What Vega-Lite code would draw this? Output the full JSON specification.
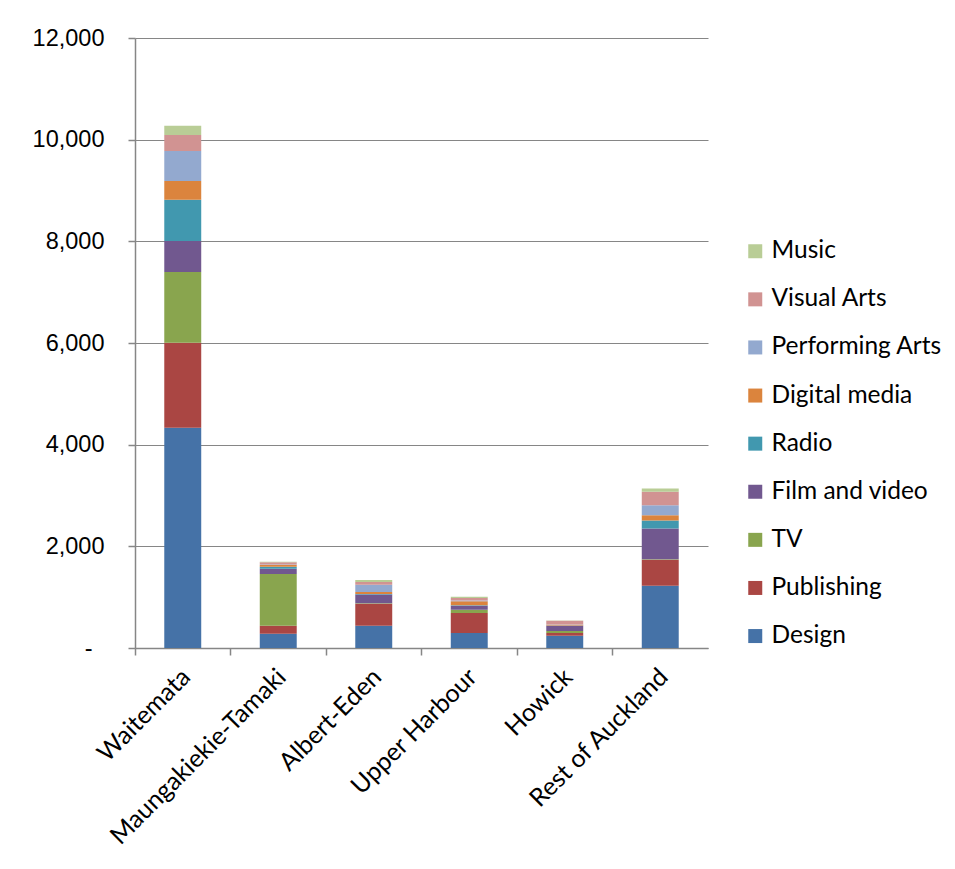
{
  "$schema": "https://vega.github.io/schema/vega-lite/v6.json",
  "autosize": "none",
  "width": 573,
  "height": 610,
  "padding": {"left": 135, "top": 38, "right": 247, "bottom": 221},
  "background": "white",
  "data": {
    "values": [
      {"area": "Waitemata", "sector": "Design", "rank": 1, "jobs": 4334},
      {"area": "Waitemata", "sector": "Publishing", "rank": 2, "jobs": 1672},
      {"area": "Waitemata", "sector": "TV", "rank": 3, "jobs": 1391},
      {"area": "Waitemata", "sector": "Film and video", "rank": 4, "jobs": 610},
      {"area": "Waitemata", "sector": "Radio", "rank": 5, "jobs": 813},
      {"area": "Waitemata", "sector": "Digital media", "rank": 6, "jobs": 367},
      {"area": "Waitemata", "sector": "Performing Arts", "rank": 7, "jobs": 590},
      {"area": "Waitemata", "sector": "Visual Arts", "rank": 8, "jobs": 315},
      {"area": "Waitemata", "sector": "Music", "rank": 9, "jobs": 183},

      {"area": "Maungakiekie-Tamaki", "sector": "Design", "rank": 1, "jobs": 281},
      {"area": "Maungakiekie-Tamaki", "sector": "Publishing", "rank": 2, "jobs": 158},
      {"area": "Maungakiekie-Tamaki", "sector": "TV", "rank": 3, "jobs": 1017},
      {"area": "Maungakiekie-Tamaki", "sector": "Film and video", "rank": 4, "jobs": 104},
      {"area": "Maungakiekie-Tamaki", "sector": "Radio", "rank": 5, "jobs": 39},
      {"area": "Maungakiekie-Tamaki", "sector": "Digital media", "rank": 6, "jobs": 33},
      {"area": "Maungakiekie-Tamaki", "sector": "Performing Arts", "rank": 7, "jobs": 10},
      {"area": "Maungakiekie-Tamaki", "sector": "Visual Arts", "rank": 8, "jobs": 45},
      {"area": "Maungakiekie-Tamaki", "sector": "Music", "rank": 9, "jobs": 8},

      {"area": "Albert-Eden", "sector": "Design", "rank": 1, "jobs": 439},
      {"area": "Albert-Eden", "sector": "Publishing", "rank": 2, "jobs": 433},
      {"area": "Albert-Eden", "sector": "TV", "rank": 3, "jobs": 10},
      {"area": "Albert-Eden", "sector": "Film and video", "rank": 4, "jobs": 171},
      {"area": "Albert-Eden", "sector": "Radio", "rank": 5, "jobs": 10},
      {"area": "Albert-Eden", "sector": "Digital media", "rank": 6, "jobs": 39},
      {"area": "Albert-Eden", "sector": "Performing Arts", "rank": 7, "jobs": 144},
      {"area": "Albert-Eden", "sector": "Visual Arts", "rank": 8, "jobs": 52},
      {"area": "Albert-Eden", "sector": "Music", "rank": 9, "jobs": 39},

      {"area": "Upper Harbour", "sector": "Design", "rank": 1, "jobs": 295},
      {"area": "Upper Harbour", "sector": "Publishing", "rank": 2, "jobs": 394},
      {"area": "Upper Harbour", "sector": "TV", "rank": 3, "jobs": 65},
      {"area": "Upper Harbour", "sector": "Film and video", "rank": 4, "jobs": 79},
      {"area": "Upper Harbour", "sector": "Radio", "rank": 5, "jobs": 10},
      {"area": "Upper Harbour", "sector": "Digital media", "rank": 6, "jobs": 79},
      {"area": "Upper Harbour", "sector": "Performing Arts", "rank": 7, "jobs": 10},
      {"area": "Upper Harbour", "sector": "Visual Arts", "rank": 8, "jobs": 52},
      {"area": "Upper Harbour", "sector": "Music", "rank": 9, "jobs": 26},

      {"area": "Howick", "sector": "Design", "rank": 1, "jobs": 243},
      {"area": "Howick", "sector": "Publishing", "rank": 2, "jobs": 52},
      {"area": "Howick", "sector": "TV", "rank": 3, "jobs": 39},
      {"area": "Howick", "sector": "Film and video", "rank": 4, "jobs": 105},
      {"area": "Howick", "sector": "Radio", "rank": 5, "jobs": 5},
      {"area": "Howick", "sector": "Digital media", "rank": 6, "jobs": 13},
      {"area": "Howick", "sector": "Performing Arts", "rank": 7, "jobs": 5},
      {"area": "Howick", "sector": "Visual Arts", "rank": 8, "jobs": 75},
      {"area": "Howick", "sector": "Music", "rank": 9, "jobs": 5},

      {"area": "Rest of Auckland", "sector": "Design", "rank": 1, "jobs": 1226},
      {"area": "Rest of Auckland", "sector": "Publishing", "rank": 2, "jobs": 511},
      {"area": "Rest of Auckland", "sector": "TV", "rank": 3, "jobs": 10},
      {"area": "Rest of Auckland", "sector": "Film and video", "rank": 4, "jobs": 604},
      {"area": "Rest of Auckland", "sector": "Radio", "rank": 5, "jobs": 157},
      {"area": "Rest of Auckland", "sector": "Digital media", "rank": 6, "jobs": 105},
      {"area": "Rest of Auckland", "sector": "Performing Arts", "rank": 7, "jobs": 197},
      {"area": "Rest of Auckland", "sector": "Visual Arts", "rank": 8, "jobs": 264},
      {"area": "Rest of Auckland", "sector": "Music", "rank": 9, "jobs": 66}
    ]
  },
  "mark": {"type": "bar", "width": {"band": 0.387}},
  "encoding": {
    "x": {
      "field": "area",
      "type": "nominal",
      "sort": null,
      "scale": {"paddingInner": 0, "paddingOuter": 0},
      "axis": {
        "title": null,
        "bandPosition": 0,
        "labelOffset": -5,
        "labelAngle": -45,
        "labelAlign": "right",
        "labelBaseline": "top",
        "labelFont": "Lato",
        "labelFontSize": 25,
        "labelLimit": 0,
        "labelColor": "black",
        "labelPadding": 9,
        "tickSize": 7,
        "tickColor": "#868686",
        "domainColor": "#868686",
        "domainWidth": 1.5,
        "tickWidth": 1.5,
        "grid": false
      }
    },
    "y": {
      "field": "jobs",
      "type": "quantitative",
      "stack": "zero",
      "scale": {"domain": [0, 12000], "nice": false},
      "axis": {
        "title": null,
        "values": [0, 2000, 4000, 6000, 8000, 10000, 12000],
        "labelExpr": "datum.value == 0 ? '-' : format(datum.value, ',')",
        "labelFont": "Liberation Sans",
        "labelFontSize": 23.5,
        "labelColor": "black",
        "labelPadding": {"condition": {"test": "datum.value == 0", "value": 36}, "value": 24},
        "tickSize": 7,
        "tickColor": "#868686",
        "tickWidth": 1.5,
        "domainColor": "#868686",
        "domainWidth": 1.5,
        "gridColor": "#868686",
        "gridWidth": 1
      }
    },
    "color": {
      "field": "sector",
      "type": "nominal",
      "scale": {
        "domain": ["Music", "Visual Arts", "Performing Arts", "Digital media", "Radio", "Film and video", "TV", "Publishing", "Design"],
        "range": ["#B9CD96", "#D19392", "#93A9CF", "#DB843D", "#4198AF", "#71588F", "#89A54E", "#AA4643", "#4572A7"]
      },
      "legend": {
        "title": null,
        "orient": "none",
        "legendX": 608,
        "legendY": 201,
        "symbolType": "square",
        "symbolSize": 196,
        "symbolStrokeWidth": 0,
        "labelFont": "Lato",
        "labelFontSize": 24.5,
        "labelLimit": 0,
        "labelColor": "black",
        "labelOffset": 4,
        "rowPadding": 23.1
      }
    },
    "order": {"field": "rank", "type": "quantitative", "sort": "ascending"}
  },
  "config": {
    "view": {"stroke": null}
  }
}
